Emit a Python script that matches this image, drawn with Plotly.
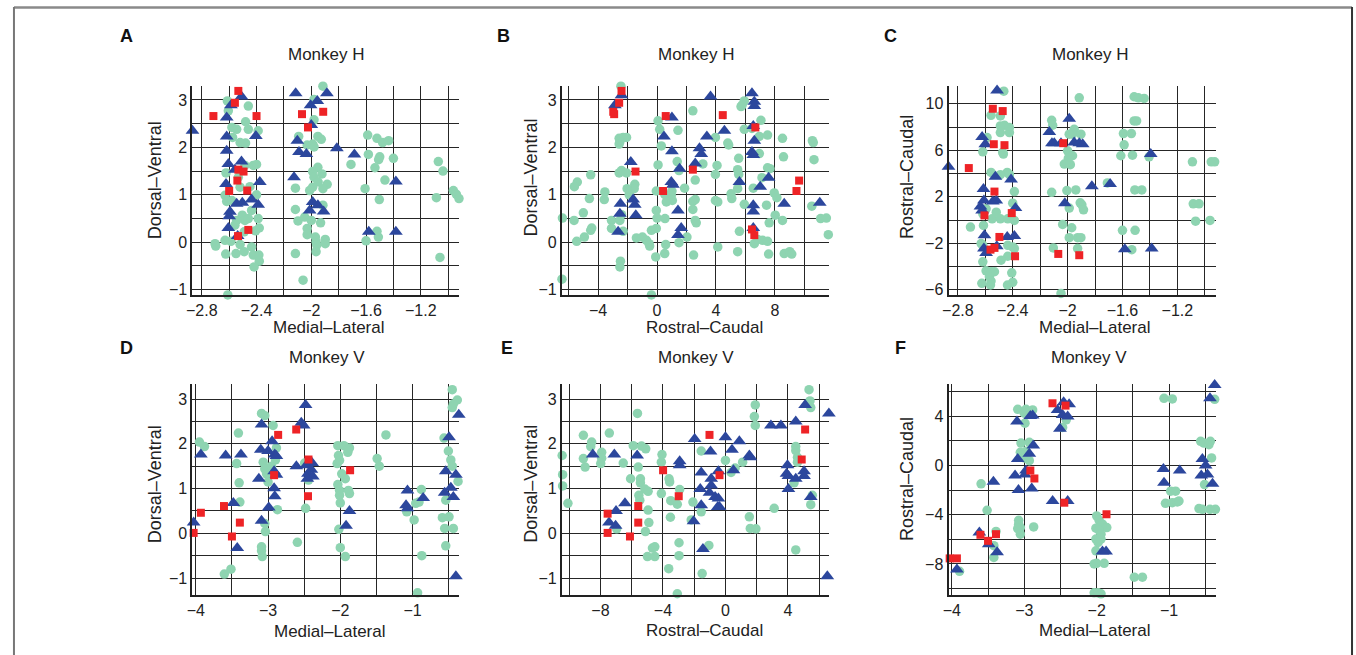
import plotly.graph_objects as go

W, H = 1356, 655

# ---------------- Panel A: Monkey H, Medial-Lateral vs Dorsal-Ventral ----------------
A_GREEN = [(-2.613, 2.98), (-2.606, 2.77), (-2.46, 2.87), (-2.48, 2.54), (-2.58, 2.42), (-2.545, 2.38),
           (-2.46, 2.38), (-2.388, 2.35), (-2.575, 2.21), (-2.52, 2.10), (-2.48, 2.09), (-2.485, 1.62),
           (-2.424, 1.62), (-2.40, 1.64), (-2.623, 1.46), (-2.533, 1.37), (-2.52, 1.16), (-2.448, 1.17),
           (-2.40, 1.0), (-2.63, 0.99), (-2.618, 0.86), (-2.58, 0.88), (-2.436, 0.67), (-2.504, 0.57),
           (-2.485, 0.46), (-2.545, 0.46), (-2.388, 0.50), (-2.46, 0.50), (-2.38, 0.30), (-2.407, 0.24),
           (-2.49, 0.22), (-2.558, 0.36), (-2.63, 0.04), (-2.587, 0.02), (-2.703, -0.03), (-2.698, -0.08),
           (-2.52, -0.05), (-2.436, -0.10), (-2.625, -0.25), (-2.55, -0.24), (-2.49, -0.20), (-2.424, -0.27),
           (-2.383, -0.27), (-2.38, -0.40), (-2.418, -0.52), (-2.61, -1.11),
           (-1.915, 3.29), (-1.98, 3.01), (-1.98, 2.58), (-2.092, 2.23), (-1.952, 2.23), (-1.927, 2.17),
           (-2.03, 2.05), (-1.99, 2.07), (-1.98, 2.01), (-1.952, 1.58), (-1.99, 1.49), (-1.922, 1.44),
           (-1.98, 1.37), (-1.95, 1.27), (-1.884, 1.22), (-1.915, 1.13), (-2.012, 1.09), (-1.99, 1.16),
           (-2.116, 1.14), (-1.915, 0.78), (-2.116, 0.69), (-2.048, 0.53), (-2.0, 0.46), (-2.097, 0.45),
           (-2.03, 0.29), (-1.932, 0.41), (-2.03, 0.16), (-1.97, 0.11), (-1.965, 0.01), (-1.898, 0.06),
           (-1.898, -0.03), (-1.96, -0.06), (-2.116, -0.24), (-1.965, -0.20), (-2.06, -0.80),
           (-1.588, 2.26), (-1.52, 2.19), (-1.479, 2.10), (-1.435, 2.14), (-1.583, 1.85), (-1.50, 1.80),
           (-1.508, 1.74), (-1.40, 1.77), (-1.71, 1.64), (-1.535, 1.57), (-1.462, 1.31), (-1.607, 1.13),
           (-1.503, 0.90), (-1.60, 0.03), (-1.52, 0.23), (-1.51, 0.11), (-1.072, 1.70), (-1.038, 1.50),
           (-0.962, 1.09), (-0.94, 1.01), (-0.921, 0.92), (-1.086, 0.94), (-1.06, -0.32)]
A_BLUE = [(-2.868, 2.35), (-2.51, 3.07), (-2.587, 2.89), (-2.618, 2.63), (-2.618, 2.23), (-2.618, 1.93),
          (-2.606, 1.65), (-2.51, 1.70), (-2.558, 1.53), (-2.623, 1.23), (-2.545, 0.81), (-2.504, 0.83),
          (-2.594, 0.64), (-2.60, 0.55), (-2.606, 0.30), (-2.538, 0.13), (-2.436, 0.90), (-2.388, 0.79),
          (-2.376, 1.27), (-2.405, 2.24), (-2.114, 3.14), (-1.886, 3.14), (-1.956, 2.98), (-2.005, 2.89),
          (-2.0, 2.47), (-2.102, 2.14), (-2.09, 1.90), (-2.036, 1.86), (-1.813, 1.98), (-1.685, 1.85),
          (-2.126, 1.37), (-1.99, 0.85), (-2.012, 0.67), (-1.952, 0.78), (-1.91, 0.65), (-1.382, 1.28),
          (-1.58, 0.22), (-1.382, 0.22)]
A_RED = [(-2.38, 3.31), (-2.533, 3.19), (-2.558, 2.94), (-2.715, 2.66), (-2.40, 2.66), (-2.068, 2.70),
         (-1.913, 2.75), (-2.024, 2.42), (-2.533, 1.53), (-2.495, 1.49), (-2.54, 1.30), (-2.60, 1.08),
         (-2.468, 1.09), (-2.46, 0.26), (-2.535, 0.13)]

# ---------------- Panel B: Monkey H, Rostral-Caudal vs Dorsal-Ventral ----------------
B_GREEN = [(-2.45, 3.29), (2.43, 2.77), (5.92, 2.98), (5.77, 2.89), (5.70, 2.86), (0.07, 2.56), (0.18, 2.38),
           (1.42, 2.36), (6.44, 2.40), (5.92, 2.38), (7.05, 2.57), (6.94, 2.23), (7.5, 2.26), (3.96, 2.21),
           (4.8, 2.09), (4.86, 2.05), (8.51, 2.19), (10.54, 2.14), (10.6, 2.10), (6.94, 1.87), (-2.57, 2.19),
           (-2.30, 2.21), (-2.07, 2.21), (-2.52, 2.12), (-2.57, 2.07), (0.29, 2.03), (5.54, 1.77), (8.58, 1.80),
           (10.65, 1.74), (0.07, 1.63), (1.37, 1.70), (1.49, 1.51), (4.07, 1.62), (3.96, 1.43), (3.11, 1.65),
           (5.47, 1.53), (5.54, 1.43), (7.5, 1.57), (7.66, 1.55), (7.12, 1.36), (-2.57, 1.46), (-2.41, 1.51),
           (-2.07, 1.46), (-1.51, 1.22), (-1.55, 1.13), (-2.03, 1.13), (-1.89, 1.0), (-4.5, 1.42), (-5.41, 1.27),
           (-5.61, 1.17), (-3.54, 1.06), (-3.58, 0.90), (-4.59, 0.92), (-0.05, 1.08), (0.52, 1.01), (0.97, 0.99),
           (1.04, 0.88), (1.87, 1.14), (2.59, 1.31), (1.01, 1.08), (5.02, 1.02), (5.07, 0.92), (5.47, 1.13),
           (6.53, 1.14), (7.95, 1.04), (8.13, 0.94), (2.43, 0.86), (2.59, 0.90), (3.96, 0.88), (4.12, 0.85),
           (5.92, 0.80), (7.43, 0.78), (0.63, 0.85), (2.43, 0.69), (10.5, 0.76), (-5.0, 0.62), (-5.63, 0.46),
           (-6.42, 0.51), (-3.09, 0.46), (-2.52, 0.46), (-2.41, 0.58), (-0.05, 0.67), (0.54, 0.50), (0.0, 0.51),
           (2.59, 0.46), (2.66, 0.41), (8.02, 0.57), (8.51, 0.46), (7.61, 0.41), (11.1, 0.50), (11.49, 0.51),
           (-4.5, 0.25), (-4.43, 0.30), (-3.09, 0.29), (-4.93, 0.11), (-5.45, 0.02), (-2.30, 0.23), (-0.38, 0.25),
           (-0.05, 0.29), (-1.4, 0.09), (-0.99, 0.11), (-0.72, 0.04), (-0.54, -0.03), (-0.5, -0.08), (0.59, -0.05),
           (1.49, -0.01), (2.03, 0.11), (5.59, 0.23), (6.6, -0.03), (6.82, 0.06), (7.16, 0.04), (7.5, 0.02),
           (11.62, 0.16), (-0.09, -0.31), (0.52, -0.24), (2.48, -0.27), (4.12, -0.10), (5.47, -0.20),
           (7.57, -0.25), (8.63, -0.24), (9.0, -0.20), (9.14, -0.25), (-2.48, -0.40), (-2.52, -0.52),
           (-6.45, -0.78), (-0.38, -1.11)]
B_BLUE = [(-2.41, 3.10), (-2.86, 2.89), (1.01, 2.63), (3.63, 3.07), (6.44, 3.14), (6.6, 2.96), (6.6, 2.87),
          (6.53, 2.45), (4.57, 2.35), (0.47, 2.23), (3.38, 2.23), (2.88, 1.98), (3.0, 1.86), (6.6, 2.14),
          (6.44, 1.90), (6.53, 1.84), (1.01, 1.92), (-1.78, 1.69), (2.59, 1.66), (1.53, 1.55), (0.97, 1.27),
          (1.08, 1.21), (5.59, 1.27), (7.57, 1.36), (7.0, 1.17), (-1.62, 0.90), (-1.51, 0.79), (-2.48, 0.81),
          (-2.52, 0.60), (-1.44, 0.57), (-2.64, 0.22), (1.42, 0.67), (1.64, 0.30), (1.42, 0.15), (6.53, 0.78),
          (6.53, 0.65), (6.53, 0.30), (8.63, 0.81), (11.04, 0.83)]
B_RED = [(-3.13, 3.31), (-2.41, 3.19), (-2.57, 2.94), (-2.97, 2.75), (-2.91, 2.70), (0.59, 2.66), (4.46, 2.68),
         (6.67, 2.42), (-1.46, 1.49), (2.43, 1.53), (0.41, 1.08), (9.64, 1.30), (9.46, 1.08), (6.44, 0.27),
         (6.60, 0.15)]

# ---------------- Panel C: Monkey H, Medial-Lateral vs Rostral-Caudal ----------------
C_GREEN = [(-2.465, 11.08), (-2.036, 11.57), (-1.915, 10.51), (-1.515, 10.6), (-1.484, 10.51), (-1.442, 10.46),
           (-2.558, 9.0), (-2.49, 8.95), (-2.116, 8.58), (-2.109, 8.15), (-1.515, 8.52), (-1.497, 8.52),
           (-2.49, 8.09), (-2.46, 8.15), (-2.424, 7.95), (-2.49, 7.52), (-2.424, 7.52), (-2.587, 7.09),
           (-1.952, 7.8), (-1.964, 7.38), (-1.988, 7.38), (-1.903, 7.38), (-1.593, 7.44), (-1.535, 7.44),
           (-2.618, 5.87), (-2.473, 5.81), (-2.468, 5.67), (-2.0, 5.95), (-1.964, 5.53), (-1.995, 5.30),
           (-2.024, 4.81), (-1.98, 4.76), (-1.588, 6.47), (-1.612, 5.53), (-1.527, 5.58), (-1.406, 5.44),
           (-1.09, 5.01), (-0.953, 5.01), (-0.928, 5.01), (-2.558, 4.10), (-2.44, 4.10), (-2.49, 3.90),
           (-2.424, 3.90), (-1.71, 3.19), (-2.388, 2.45), (-2.116, 2.39), (-2.005, 2.54), (-1.94, 2.59),
           (-1.51, 2.59), (-1.459, 2.59), (-1.908, 1.48), (-1.896, 1.31), (-1.884, 0.88), (-1.988, 1.03),
           (-1.084, 1.40), (-1.042, 1.40), (-1.067, -0.09), (-0.962, -0.03), (-2.40, 1.45), (-2.594, 0.97),
           (-2.52, 0.68), (-2.618, 0.54), (-2.55, 0.11), (-2.49, 0.11), (-2.436, 0.11), (-2.388, -0.03),
           (-2.708, -0.60), (-2.613, -0.46), (-2.036, -0.37), (-1.97, -0.66), (-1.988, -1.51), (-1.927, -1.51),
           (-1.903, -1.51), (-1.60, -0.88), (-1.508, -0.88), (-2.104, -2.39), (-1.927, -2.45), (-1.532, -2.54),
           (-2.63, -2.02), (-2.618, -2.17), (-2.436, -2.17), (-2.40, -2.31), (-2.388, -2.45), (-2.436, -3.11),
           (-2.485, -3.45), (-2.618, -3.59), (-2.594, -4.36), (-2.558, -4.44), (-2.533, -4.44), (-2.57, -4.87),
           (-2.558, -5.24), (-2.625, -5.44), (-2.562, -5.58), (-2.407, -4.53), (-2.40, -5.35), (-2.438, -5.58),
           (-2.06, -6.44), (-2.048, -6.30)]
C_BLUE = [(-2.514, 11.14), (-2.623, 7.15), (-2.6, 6.52), (-2.868, 4.59), (-2.526, 3.73), (-2.412, 3.48),
          (-2.613, 2.68), (-2.61, 1.68), (-2.545, 1.60), (-2.52, 1.68), (-2.635, 1.17), (-2.623, 0.83),
          (-2.38, 1.03), (-2.606, -1.31), (-2.44, -1.45), (-2.388, -1.37), (-2.61, -2.45), (-2.594, -2.82),
          (-2.516, -2.25), (-2.133, 7.58), (-1.988, 8.72), (-2.114, 6.61), (-2.097, 6.61), (-2.048, 6.61),
          (-1.952, 6.67), (-1.915, 6.61), (-1.89, 6.52), (-2.02, 1.45), (-1.823, 2.91), (-1.69, 3.11),
          (-1.394, 5.67), (-1.583, -2.51), (-1.387, -2.45)]
C_RED = [(-2.545, 9.57), (-2.473, 9.37), (-2.538, 6.52), (-2.46, 6.44), (-2.032, 6.61), (-2.72, 4.47),
         (-2.533, 2.45), (-2.606, 0.40), (-2.407, 0.60), (-2.497, -1.45), (-2.562, -2.54), (-2.533, -2.39),
         (-2.383, -3.11), (-2.068, -2.91), (-1.915, -3.02)]

# ---------------- Panel D: Monkey V, Medial-Lateral vs Dorsal-Ventral ----------------
D_GREEN = [(-3.95, 2.04), (-3.88, 1.94), (-3.41, 2.24), (-3.435, 1.56), (-3.40, 1.13), (-3.39, 0.70),
           (-3.605, -0.91), (-3.513, -0.80), (-3.09, 2.68), (-3.045, 2.63), (-2.93, 2.41), (-3.067, 1.59),
           (-3.045, 1.44), (-3.02, 1.33), (-3.0, 1.15), (-2.884, 1.91), (-2.897, 1.64), (-2.953, 1.50),
           (-3.045, 0.22), (-3.036, 0.04), (-3.09, -0.30), (-3.09, -0.39), (-3.08, -0.52), (-2.87, 0.53),
           (-2.594, -0.20), (-2.48, 0.56), (-2.493, 1.57), (-2.44, 1.19), (-2.034, 1.96), (-1.95, 1.96),
           (-1.873, 1.91), (-1.896, 1.81), (-2.025, 1.74), (-2.043, 1.56), (-2.01, 1.63), (-1.98, 1.33),
           (-1.93, 1.22), (-2.034, 1.09), (-2.01, 0.96), (-1.887, 0.96), (-1.873, 0.89), (-2.01, 0.85),
           (-2.0, 0.68), (-2.02, 0.09), (-2.0, -0.32), (-1.93, -0.52), (-1.368, 2.20), (-1.49, 1.67),
           (-1.46, 1.50), (-1.08, 0.48), (-0.978, 0.30), (-0.955, 0.67), (-0.878, 0.98), (-0.91, 0.70),
           (-0.872, -0.50), (-0.93, -1.33), (-0.45, 3.21), (-0.38, 2.98), (-0.435, 2.89), (-0.45, 2.81),
           (-0.564, 2.13), (-0.504, 1.84), (-0.47, 1.64), (-0.45, 1.50), (-0.37, 1.16), (-0.54, 0.74),
           (-0.587, 0.35), (-0.495, 0.37), (-0.555, 0.11), (-0.435, 0.11), (-0.54, -0.28)]
D_BLUE = [(-3.93, 1.76), (-4.03, 0.24), (-3.587, 1.74), (-3.375, 1.76), (-3.48, 0.68), (-3.426, -0.33),
          (-3.09, 2.43), (-3.10, 1.87), (-3.127, 1.22), (-3.09, 0.28), (-3.0, 1.84), (-2.944, 2.06),
          (-2.907, 1.76), (-2.884, 1.73), (-2.916, 1.39), (-2.884, 1.31), (-2.916, 1.01), (-2.907, 0.83),
          (-2.99, 0.58), (-2.48, 2.87), (-2.54, 2.47), (-2.507, 2.41), (-2.608, 1.50), (-2.47, 1.52),
          (-2.39, 1.57), (-2.40, 1.42), (-2.447, 1.33), (-2.38, 1.27), (-2.456, 1.22), (-1.873, 0.50),
          (-1.92, 0.17), (-1.07, 0.96), (-1.09, 0.63), (-1.07, 0.56), (-0.853, 0.79), (-0.495, 2.15),
          (-0.54, 1.39), (-0.40, 1.31), (-0.47, 1.02), (-0.555, 0.91), (-0.435, 0.81), (-0.36, 2.65),
          (-0.40, -0.96)]
D_RED = [(-4.03, 0.01), (-3.93, 0.46), (-3.61, 0.61), (-3.39, 0.24), (-3.50, -0.07), (-2.916, 1.30),
         (-2.86, 2.20), (-2.61, 2.32), (-2.44, 1.65), (-2.447, 0.83), (-1.864, 1.41)]

# ---------------- Panel E: Monkey V, Rostral-Caudal vs Dorsal-Ventral ----------------
E_GREEN = [(-10.45, 1.74), (-10.42, 1.31), (-10.42, 1.06), (-10.08, 0.67), (-9.09, 2.19), (-9.09, 1.67),
           (-8.98, 1.48), (-8.56, 2.04), (-8.62, 1.94), (-7.92, 1.81), (-7.92, 1.68), (-7.98, 1.56),
           (-7.43, 2.24), (-6.54, 1.57), (-6.07, 1.22), (-5.90, 1.96), (-5.63, 2.68), (-5.37, 1.95),
           (-5.10, 1.89), (-5.58, 1.48), (-5.44, 1.22), (-5.44, 1.13), (-5.16, 0.99), (-4.95, 0.94),
           (-5.54, 0.85), (-5.48, 0.74), (-4.95, 0.52), (-4.90, 0.24), (-5.12, 0.04), (-6.96, 0.10),
           (-4.06, 1.76), (-4.10, 1.59), (-3.61, 1.22), (-3.57, 1.15), (-4.10, 0.89), (-3.50, 0.73),
           (-3.08, 0.65), (-3.52, 0.36), (-2.93, 0.98), (-2.08, 0.70), (-2.19, 0.30), (-1.55, 0.48),
           (-1.55, 1.84), (0.0, 1.63), (0.36, 1.36), (0.62, 1.46), (1.10, 1.59), (1.91, 2.87), (1.85, 2.61),
           (1.91, 2.41), (-4.67, -0.33), (-4.52, -0.30), (-4.99, -0.52), (-4.52, -0.52), (-2.97, -0.21),
           (-2.97, -0.50), (-3.63, -0.79), (-3.08, -1.35), (-1.06, -0.27), (-1.49, -0.90), (1.53, 0.37),
           (1.59, 0.11), (1.95, 0.10), (3.12, 0.56), (4.50, 1.94), (4.50, 1.85), (4.61, 1.70), (4.61, 1.59),
           (4.39, 1.13), (4.50, -0.37), (5.35, 3.21), (5.41, 2.96), (5.46, 2.81), (5.56, 0.85), (5.46, 0.64)]
E_BLUE = [(-8.49, 1.76), (-7.11, 1.76), (-5.65, 1.74), (-6.43, 0.67), (-7.0, 0.50), (-7.45, 0.24),
          (-7.03, 0.17), (-2.93, 1.61), (-2.93, 1.52), (-1.55, 1.36), (-1.61, 0.99), (-1.55, 0.63),
          (-2.04, 0.27), (-1.44, -0.35), (-1.97, 2.11), (-0.955, 1.83), (-0.91, 1.22), (-0.91, 1.07),
          (-1.02, 0.91), (-0.66, 0.81), (-0.45, 0.78), (-0.49, 0.59), (-0.38, 0.59), (-0.45, 1.39),
          (0.0, 2.15), (0.89, 2.06), (0.42, 1.87), (0.51, 1.41), (1.53, 1.74), (1.59, 1.70), (2.91, 2.41),
          (3.55, 2.41), (4.50, 2.50), (5.10, 2.87), (6.62, 2.68), (3.97, 1.52), (3.91, 1.33), (4.03, 1.28),
          (4.50, 1.22), (5.03, 1.39), (5.03, 1.28), (4.03, 0.99), (5.46, 0.81), (6.52, -0.96)]
E_RED = [(-7.54, 0.44), (-7.54, 0.01), (-6.11, -0.07), (-5.58, 0.61), (-5.58, 0.24), (-3.99, 1.41),
         (-2.99, 0.83), (-1.02, 2.20), (-0.38, 1.30), (5.10, 2.32), (4.88, 1.65)]

# ---------------- Panel F: Monkey V, Medial-Lateral vs Rostral-Caudal ----------------
F_GREEN = [(-3.894, -8.6), (-3.596, -1.48), (-3.513, -3.64), (-3.42, -6.52), (-3.42, -7.47), (-3.39, -5.36),
           (-3.09, 4.58), (-2.976, 4.58), (-2.884, 4.53), (-3.0, 4.26), (-2.99, 3.45), (-3.045, 1.83),
           (-3.054, 1.08), (-2.93, 1.89), (-2.976, 1.16), (-3.0, 0.62), (-2.93, 0.40), (-3.077, -4.45),
           (-3.077, -4.77), (-3.054, -5.04), (-3.054, -5.58), (-3.09, -5.12), (-2.87, -4.99), (-2.47, 3.1),
           (-2.42, 3.72), (-2.0, -4.10), (-1.966, -4.45), (-1.92, -4.77), (-1.86, -5.04), (-2.01, -5.09),
           (-1.966, -5.26), (-1.94, -5.58), (-2.01, -5.98), (-1.94, -5.98), (-1.98, -6.25), (-2.01, -6.93),
           (-2.034, -8.0), (-2.0, -7.95), (-1.896, -7.95), (-2.034, -10.35), (-1.98, -10.35), (-1.94, -10.43),
           (-1.48, -9.08), (-1.368, -9.08), (-1.07, 5.47), (-0.955, 5.42), (-0.978, -2.08), (-0.91, -2.08),
           (-0.955, -3.02), (-0.886, -2.96), (-0.863, -2.88), (-1.05, -3.07), (-0.564, 1.97), (-0.52, 1.83),
           (-0.45, 1.70), (-0.43, 1.97), (-0.413, 0.62), (-0.51, -1.54), (-0.587, -3.50), (-0.54, -3.56),
           (-0.435, -3.56), (-0.36, -3.56), (-0.37, 5.39)]
F_BLUE = [(-3.93, -8.46), (-3.62, -5.44), (-3.49, -6.39), (-3.375, -7.06), (-3.426, -1.32), (-3.10, 3.58),
          (-3.09, 0.54), (-3.127, -0.81), (-3.08, -1.99), (-2.99, -0.73), (-2.976, -0.40), (-2.916, 4.04),
          (-2.884, 4.07), (-2.93, 0.97), (-2.875, 1.64), (-2.897, -1.86), (-2.608, -2.88), (-2.54, 4.53),
          (-2.456, 5.15), (-2.38, 4.99), (-2.47, 4.12), (-2.40, 3.99), (-2.507, 2.99), (-2.40, -2.88),
          (-1.92, -6.98), (-1.87, -6.98), (-1.078, -0.27), (-1.07, -1.40), (-0.853, -0.40), (-0.54, 0.54),
          (-0.495, 0.0), (-0.555, -0.81), (-0.47, -0.73), (-0.40, -1.48), (-0.435, 5.47), (-0.37, 6.55)]
F_RED = [(-4.03, -7.55), (-3.93, -7.55), (-3.605, -5.63), (-3.50, -6.12), (-3.39, -5.58), (-2.916, -0.40),
         (-2.86, -1.05), (-2.61, 5.07), (-2.43, 4.88), (-2.447, -3.02), (-1.864, -3.96)]

LETTERS = ["A", "B", "C", "D", "E", "F"]
TITLES = ["Monkey H", "Monkey H", "Monkey H", "Monkey V", "Monkey V", "Monkey V"]
X_TITLES = ["Medial–Lateral", "Rostral–Caudal", "Medial–Lateral", "Medial–Lateral", "Rostral–Caudal", "Medial–Lateral"]
Y_TITLES = ["Dorsal–Ventral", "Dorsal–Ventral", "Rostral–Caudal", "Dorsal–Ventral", "Dorsal–Ventral", "Rostral–Caudal"]
DATA = [(A_GREEN, A_BLUE, A_RED), (B_GREEN, B_BLUE, B_RED), (C_GREEN, C_BLUE, C_RED),
        (D_GREEN, D_BLUE, D_RED), (E_GREEN, E_BLUE, E_RED), (F_GREEN, F_BLUE, F_RED)]

# axis setup (ranges, tick spacing)
AX = [
    dict(xr=[-2.868, -0.921], xt0=-2.8, xdt=0.4, xm=0.2, yr=[-1.11, 3.29], yt0=0, ydt=1, ym=0.5),
    dict(xr=[-6.46, 11.67], xt0=0, xdt=4, xm=2, yr=[-1.11, 3.29], yt0=0, ydt=1, ym=0.5),
    dict(xr=[-2.868, -0.921], xt0=-2.8, xdt=0.4, xm=0.2, yr=[-6.43, 11.51], yt0=-6, ydt=4, ym=2),
    dict(xr=[-4.046, -0.357], xt0=-4, xdt=1, xm=0.5, yr=[-1.37, 3.33], yt0=0, ydt=1, ym=0.5),
    dict(xr=[-10.47, 6.63], xt0=0, xdt=4, xm=2, yr=[-1.37, 3.33], yt0=0, ydt=1, ym=0.5),
    dict(xr=[-4.046, -0.357], xt0=-4, xdt=1, xm=0.5, yr=[-10.5, 6.61], yt0=0, ydt=4, ym=2),
]

# pixel layout
COLS = [(187.3, 455.0), (558.3, 826.7), (946.7, 1215.0)]
ROWS = [(86.7, 296.7), (386.7, 598.3)]
LETTER_POS = [(121, 36), (500, 36), (888, 36), (121, 350), (503, 350), (898, 350)]
TITLE_POS = [(322, 55), (694, 55), (1089, 55), (322, 360), (693, 360), (1088, 360)]
XT_POS = [(324, 330), (702, 330), (1094, 330), (325, 635), (702, 634), (1094, 634)]
YT_POS = [(150, 181), (527, 179), (905, 178), (150, 487), (527, 487), (905, 482)]


def fx(p):
    return p / W


def fy(p):
    return 1 - p / H


GREEN = "#8ed4b1"
BLUE = "#2c479d"
RED = "#ee2326"
GRID = "#262626"
FONT = "Liberation Sans, Arial, sans-serif"

fig = go.Figure()
layout = dict(width=W, height=H, margin=dict(l=0, r=0, t=0, b=0),
              paper_bgcolor="white", plot_bgcolor="white", showlegend=False,
              font=dict(family=FONT, color="#222", size=16))
annotations = []

for i in range(6):
    n = i + 1
    xa = "xaxis" if n == 1 else f"xaxis{n}"
    ya = "yaxis" if n == 1 else f"yaxis{n}"
    xref = "x" if n == 1 else f"x{n}"
    yref = "y" if n == 1 else f"y{n}"
    c0, c1 = COLS[i % 3]
    r0, r1 = ROWS[i // 3]
    a = AX[i]
    layout[xa] = dict(domain=[fx(c0), fx(c1)], range=a["xr"], anchor=yref,
                      tick0=a["xt0"], dtick=a["xdt"], showgrid=True, gridcolor=GRID, gridwidth=1.2,
                      minor=dict(tick0=a["xt0"], dtick=a["xm"], showgrid=True, gridcolor=GRID, gridwidth=1.2),
                      zeroline=False, showline=True, linecolor="#222", linewidth=2, ticks="",
                      tickfont=dict(size=16, color="#222"), fixedrange=True)
    layout[ya] = dict(domain=[fy(r1), fy(r0)], range=a["yr"], anchor=xref,
                      tick0=a["yt0"], dtick=a["ydt"], showgrid=True, gridcolor=GRID, gridwidth=1.2,
                      minor=dict(tick0=a["yt0"], dtick=a["ym"], showgrid=True, gridcolor=GRID, gridwidth=1.2),
                      zeroline=False, showline=True, linecolor="#222", linewidth=2, ticks="",
                      tickfont=dict(size=16, color="#222"), fixedrange=True)
    g, b, r = DATA[i]
    for pts, sym, col, sz in [(g, "circle", GREEN, 9.5), (b, "triangle-up", BLUE, 12), (r, "square", RED, 8)]:
        fig.add_trace(go.Scatter(x=[p[0] for p in pts], y=[p[1] for p in pts], mode="markers",
                                 xaxis=xref, yaxis=yref, cliponaxis=False,
                                 marker=dict(symbol=sym, color=col, size=sz, line=dict(width=0))))
    lx, ly = LETTER_POS[i]
    annotations.append(dict(text=f"<b>{LETTERS[i]}</b>", x=fx(lx), y=fy(ly), xref="paper", yref="paper",
                            showarrow=False, xanchor="center", yanchor="middle",
                            font=dict(size=18, color="#111", family=FONT)))
    tx, ty = TITLE_POS[i]
    annotations.append(dict(text=TITLES[i], x=fx(tx), y=fy(ty), xref="paper", yref="paper",
                            showarrow=False, xanchor="center", yanchor="middle",
                            font=dict(size=17, color="#222", family=FONT)))
    ax_, ay_ = XT_POS[i]
    annotations.append(dict(text=X_TITLES[i], x=fx(ax_), y=fy(ay_), xref="paper", yref="paper",
                            showarrow=False, xanchor="center", yanchor="middle",
                            font=dict(size=17, color="#222", family=FONT)))
    bx, by = YT_POS[i]
    annotations.append(dict(text=Y_TITLES[i], x=fx(bx), y=fy(by), xref="paper", yref="paper",
                            showarrow=False, xanchor="center", yanchor="middle", textangle=-90,
                            font=dict(size=18, color="#222", family=FONT)))

layout["annotations"] = annotations
layout["shapes"] = [
    dict(type="line", xref="paper", yref="paper", x0=fx(8), x1=fx(1352), y0=fy(7.5), y1=fy(7.5),
         line=dict(color="#8a8a8a", width=2.5)),
    dict(type="line", xref="paper", yref="paper", x0=fx(8), x1=fx(8), y0=fy(7), y1=fy(660),
         line=dict(color="#777", width=2)),
    dict(type="line", xref="paper", yref="paper", x0=fx(1352), x1=fx(1352), y0=fy(7), y1=fy(660),
         line=dict(color="#333", width=2)),
]
fig.update_layout(**layout)
fig.write_html("out.html", config={"displayModeBar": False},
               post_script="document.body.style.margin='0';document.body.style.overflow='hidden';")
